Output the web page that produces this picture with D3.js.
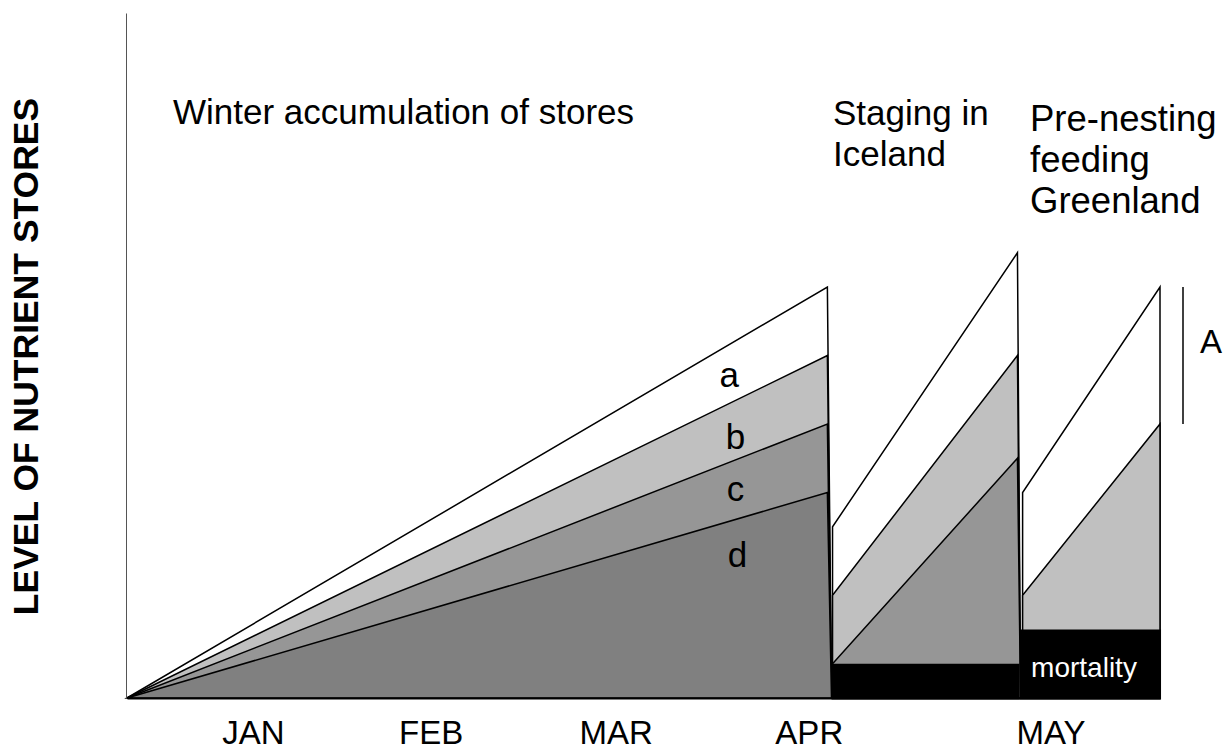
<!DOCTYPE html>
<html>
<head>
<meta charset="utf-8">
<script src="https://cdn.jsdelivr.net/npm/d3@7"></script>
<style>
  html, body { margin: 0; padding: 0; background: #fff; }
  svg { display: block; font-family: "Liberation Sans", Arial, sans-serif; }
</style>
</head>
<body>
<svg id="chart" width="1228" height="751"></svg>
<script>
// ---- Data (time in arbitrary units 0..100 along the season, level in 0..100) ----
const months = ["JAN", "FEB", "MAR", "APR", "MAY"];
const monthTickTimes = [12.2, 29.4, 47.3, 66.0, 89.4];

const layerNames = ["a", "b", "c", "d"];
const layerFills = ["#ffffff", "#c0c0c0", "#969696", "#808080"];

// period timing: start, end (top of drop), end at base
const periodNames = ["Winter accumulation of stores", "Staging in Iceland", "Pre-nesting feeding Greenland"];
const periodStart = [0, 68.3, 86.7];
const periodEnd = [67.8, 86.2, 100];
const periodEndBase = [68.2, 86.5, 100];

// store levels of each surviving layer (a, b, c, d) at start and end of period
const winterStartLevels = [0, 0, 0, 0];
const winterEndLevels = [60, 50, 40, 30];
const icelandStartLevels = [25, 15, 5];
const icelandEndLevels = [65, 50, 35];
const greenlandStartLevels = [30, 15];
const greenlandEndLevels = [60, 40];

// mortality (black) level in each later period
const mortalityLevels = [5, 10];
const mortalityStart = [68.2, 86.4];
const mortalityEnd = [86.4, 100.1];

// bracket "A" between these levels
const bracketA = [40, 60];

// ---- Chart ----
const svg = d3.select("#chart");
const x = d3.scaleLinear().domain([0, 100]).range([127, 1160]);
const y = d3.scaleLinear().domain([0, 100]).range([698, 13]);

const startLevels = [winterStartLevels, icelandStartLevels, greenlandStartLevels];
const endLevels = [winterEndLevels, icelandEndLevels, greenlandEndLevels];

const line = d3.line().x(d => x(d[0])).y(d => y(d[1]));

startLevels.forEach((starts, p) => {
  starts.forEach((s, i) => {
    const e = endLevels[p][i];
    const pts = [
      [periodStart[p], 0],
      [periodStart[p], s],
      [periodEnd[p], e],
      [periodEndBase[p], 0]
    ];
    svg.append("path")
      .attr("d", line(pts) + "Z")
      .attr("fill", layerFills[i])
      .attr("stroke", "#000")
      .attr("stroke-width", 1.5)
      .attr("stroke-linejoin", "miter");
  });
});

// mortality blocks
mortalityLevels.forEach((m, i) => {
  svg.append("rect")
    .attr("x", x(mortalityStart[i]))
    .attr("y", y(m))
    .attr("width", x(mortalityEnd[i]) - x(mortalityStart[i]))
    .attr("height", y(0) - y(m) + 1.5)
    .attr("fill", "#000");
});

svg.append("text")
  .attr("x", 1084)
  .attr("y", 677)
  .attr("text-anchor", "middle")
  .attr("fill", "#fff")
  .attr("font-size", 28)
  .text("mortality");

// axes
const xAxis = svg.append("g")
  .attr("transform", `translate(0,${y(0)})`)
  .call(d3.axisBottom(x).tickValues(monthTickTimes).tickFormat((d, i) => months[i]).tickSize(0).tickSizeOuter(0));
xAxis.select(".domain").attr("stroke", "#000").attr("stroke-width", 2);
xAxis.selectAll("text")
  .attr("y", 46).attr("dy", 0)
  .attr("font-size", 33)
  .attr("font-family", "'Liberation Sans', Arial, sans-serif")
  .attr("fill", "#000");

const yAxis = svg.append("g")
  .attr("transform", `translate(126,0)`)
  .call(d3.axisLeft(y).tickValues([]).tickSize(0).tickSizeOuter(0));
yAxis.select(".domain").attr("stroke", "#555").attr("stroke-width", 1);

// y axis title
svg.append("text")
  .attr("transform", `translate(38,${y(50) + 1}) rotate(-90)`)
  .attr("text-anchor", "middle")
  .attr("font-size", 35.5)
  .attr("font-weight", "bold")
  .text("LEVEL OF NUTRIENT STORES");

// period titles
svg.append("text").attr("x", 173).attr("y", 124).attr("font-size", 35).text(periodNames[0]);
const t2 = svg.append("text").attr("x", 833).attr("y", 125).attr("font-size", 35);
t2.append("tspan").attr("x", 833).text("Staging in");
t2.append("tspan").attr("x", 833).attr("dy", 41).text("Iceland");
const t3 = svg.append("text").attr("x", 1030).attr("y", 131).attr("font-size", 36.5);
t3.append("tspan").attr("x", 1030).text("Pre-nesting");
t3.append("tspan").attr("x", 1030).attr("dy", 41).text("feeding");
t3.append("tspan").attr("x", 1030).attr("dy", 41).text("Greenland");

// layer labels
const layerLabelTimes = [58.3, 58.9, 58.9, 59.1];
const layerLabelBaselines = [387, 449, 501, 567];
layerNames.forEach((n, i) => {
  svg.append("text")
    .attr("x", x(layerLabelTimes[i]))
    .attr("y", layerLabelBaselines[i])
    .attr("text-anchor", "middle")
    .attr("font-size", 35)
    .text(n);
});

// bracket A
svg.append("line")
  .attr("x1", 1183).attr("x2", 1183)
  .attr("y1", y(bracketA[1])).attr("y2", y(bracketA[0]))
  .attr("stroke", "#000").attr("stroke-width", 1.5);
svg.append("text")
  .attr("x", 1211).attr("y", 353)
  .attr("text-anchor", "middle")
  .attr("font-size", 33)
  .text("A");
</script>
</body>
</html>
